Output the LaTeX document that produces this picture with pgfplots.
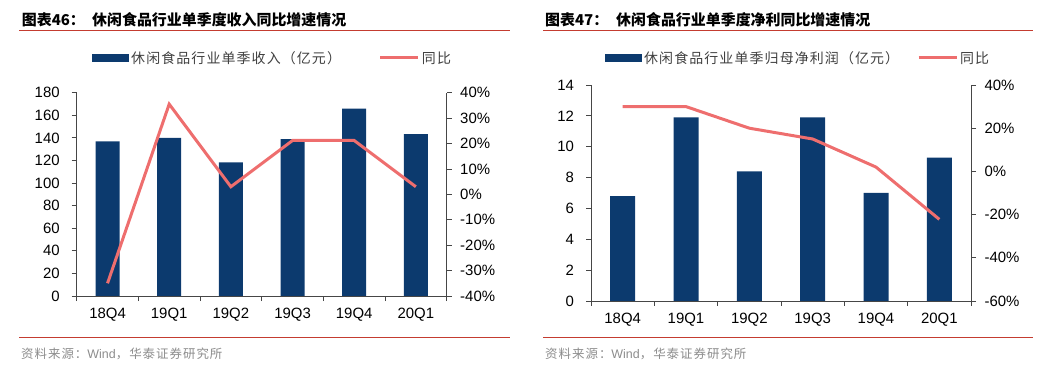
\documentclass[border=0pt]{standalone}
\usepackage{fontspec}
\setmainfont{Liberation Sans}
\newfontfamily\cjk{Noto Sans CJK SC}
\newfontfamily\cjkleg{Noto Sans CJK SC}[LetterSpace=8]
\usepackage{pgfplots}
\pgfplotsset{compat=1.18}
\definecolor{barblue}{RGB}{12,58,110}
\definecolor{linered}{RGB}{238,110,110}
\definecolor{rulered}{RGB}{196,60,48}
\definecolor{axisgray}{RGB}{70,70,70}
\definecolor{legtext}{RGB}{64,64,64}
\definecolor{srcgray}{RGB}{140,140,140}
\pgfplotsset{
  base/.style={
    scale only axis, xmin=-0.5, xmax=5.5,
    tick align=outside,
    axis line style={axisgray, line width=0.8bp},
    tick style={axisgray, line width=0.8bp},
    major tick length=5bp,
    tick label style={font=\fontsize{15}{17}\selectfont, text=black},
    /pgf/number format/assume math mode=true,
  },
  barax/.style={
    base, axis x line*=bottom, axis y line*=left,
    xtick={-0.5,0.5,...,5.5}, x tick label as interval,
    xticklabels={18Q4,19Q1,19Q2,19Q3,19Q4,20Q1},
    yticklabel style={xshift=-8.5bp},
    xticklabel style={yshift=-4bp},
    legend columns=2,
    legend style={draw=none, fill=none, inner sep=0pt, anchor=west,
      font=\cjkleg\fontsize{14}{16}\selectfont, text=legtext},
  },
  lineax/.style={
    base, axis x line=none, axis y line*=right,
    yticklabel={\pgfmathprintnumber{\tick}\%},
    yticklabel style={xshift=5bp},
  },
  barleg/.style={legend image code/.code={\fill[barblue] (0bp,-3.7bp) rectangle (37bp,3.7bp);}},
  lineleg/.style={legend image code/.code={\draw[linered, line width=3bp] (0bp,0bp) -- (38bp,0bp);}},
}
\begin{document}
\begin{tikzpicture}
\useasboundingbox (0,0) rectangle (1061bp,369bp);
% ---------- Left panel ----------
\node[anchor=west, inner sep=0pt, font=\cjk\bfseries\fontsize{15}{17}\selectfont] at (21.7bp,349bp) {图表46：};
\node[anchor=west, inner sep=0pt, font=\cjk\bfseries\fontsize{15}{17}\selectfont] at (92bp,349bp) {休闲食品行业单季度收入同比增速情况};
\draw[rulered, line width=1bp] (19.3bp,338bp) -- (510bp,338bp);
\draw[rulered, line width=1bp] (19.3bp,31.3bp) -- (510bp,31.3bp);
\node[anchor=west, inner sep=0pt, text=srcgray, font=\fontsize{12.5}{14}\selectfont] at (21bp,15bp) {{\cjkleg 资料来源：}Wind{\cjkleg ，华泰证券研究所}};

\begin{axis}[barax, at={(76.7bp,73bp)}, anchor=south west, width=370bp, height=203.3bp,
  ymin=0, ymax=180, ytick={0,20,...,180},
  legend style={at={(axis description cs:0.0414,1.1707)},
    /tikz/every even column/.append style={column sep=36bp}}]
\addplot[ybar, bar width=24bp, fill=barblue, draw=none, barleg]
  coordinates {(0,137) (1,140) (2,118.4) (3,139) (4,166) (5,143.4)};
\addlegendentry{休闲食品行业单季收入（亿元）}
\addlegendimage{lineleg}
\addlegendentry{同比}
\end{axis}
\begin{axis}[lineax, at={(76.7bp,73bp)}, anchor=south west, width=370bp, height=203.3bp,
  ymin=-40, ymax=40, ytick={-40,-30,...,40}]
\addplot[linered, line width=3bp] coordinates {(0,-35) (1,35.5) (2,3) (3,21.2) (4,21.2) (5,3)};
\end{axis}

% ---------- Right panel ----------
\node[anchor=west, inner sep=0pt, font=\cjk\bfseries\fontsize{15}{17}\selectfont] at (545bp,349bp) {图表47：};
\node[anchor=west, inner sep=0pt, font=\cjk\bfseries\fontsize{15}{17}\selectfont] at (616bp,349bp) {休闲食品行业单季度净利同比增速情况};
\draw[rulered, line width=1bp] (543.3bp,338bp) -- (1032.7bp,338bp);
\draw[rulered, line width=1bp] (543.3bp,31.3bp) -- (1032.7bp,31.3bp);
\node[anchor=west, inner sep=0pt, text=srcgray, font=\fontsize{12.5}{14}\selectfont] at (545bp,15bp) {{\cjkleg 资料来源：}Wind{\cjkleg ，华泰证券研究所}};

\begin{axis}[barax, at={(591bp,68bp)}, anchor=south west, width=380bp, height=216bp,
  ymin=0, ymax=14, ytick={0,2,...,14},
  legend style={at={(axis description cs:0.0368,1.125)},
    /tikz/every even column/.append style={column sep=16bp}}]
\addplot[ybar, bar width=25bp, fill=barblue, draw=none, barleg]
  coordinates {(0,6.8) (1,11.9) (2,8.4) (3,11.9) (4,7.0) (5,9.3)};
\addlegendentry{休闲食品行业单季归母净利润（亿元）}
\addlegendimage{lineleg}
\addlegendentry{同比}
\end{axis}
\begin{axis}[lineax, at={(591bp,68bp)}, anchor=south west, width=380bp, height=216bp,
  ymin=-60, ymax=40, ytick={-60,-40,...,40}]
\addplot[linered, line width=3bp] coordinates {(0,30) (1,30) (2,20) (3,15) (4,2) (5,-22.2)};
\end{axis}
\end{tikzpicture}
\end{document}
